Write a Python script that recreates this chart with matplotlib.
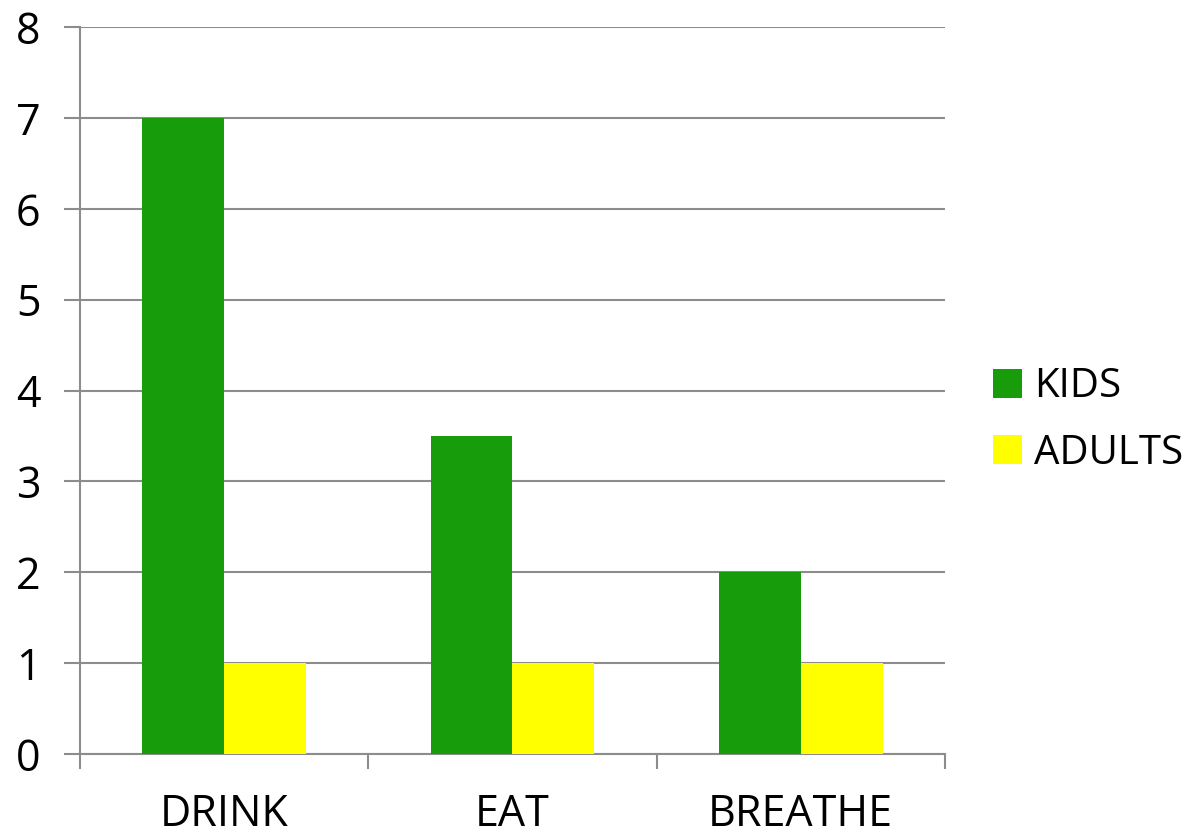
import numpy as np
import matplotlib
matplotlib.use("Agg")
import matplotlib.pyplot as plt

categories = ["DRINK", "EAT", "BREATHE"]
kids = [7, 3.5, 2]
adults = [1, 1, 1]
series_names = ["KIDS", "ADULTS"]
colors = ["#179C0C", "#FFFF00"]

plt.rcParams["font.family"] = ["Open Sans", "DejaVu Sans"]

fig = plt.figure(figsize=(11.96, 8.34), dpi=100)
ax = fig.add_axes([0.0669, 0.0959, 0.790 - 0.0669, 0.9676 - 0.0959])

x = np.arange(len(categories))
w = 0.284
b1 = ax.bar(x - w / 2, kids, w, color=colors[0], label=series_names[0], zorder=3)
b2 = ax.bar(x + w / 2, adults, w, color=colors[1], label=series_names[1], zorder=3)

grid_c = "#8C8C8C"
ax.set_xlim(-0.5, len(categories) - 0.5)
ax.set_ylim(0, 8)
ax.set_yticks(range(0, 9))
ax.yaxis.grid(True, color=grid_c, linewidth=1.5, zorder=0)
ax.set_axisbelow(True)

ax.set_xticks(x)
ax.set_xticklabels(categories)
ax.set_xticks(np.arange(-0.5, len(categories)), minor=True)
ax.tick_params(axis="x", which="major", length=0, pad=28, labelsize=31)
ax.tick_params(axis="x", which="minor", length=11, width=1.5, color=grid_c)
ax.tick_params(axis="y", length=11.5, width=1.5, color=grid_c, pad=17, labelsize=31)

for s in ["top", "right"]:
    ax.spines[s].set_visible(False)
for s in ["left", "bottom"]:
    ax.spines[s].set_color(grid_c)
    ax.spines[s].set_linewidth(1.5)

fig.legend(handles=[b1, b2], labels=series_names, loc="center left",
           bbox_to_anchor=(0.80, 0.496), frameon=False, fontsize=29,
           handlelength=0.72, handleheight=0.72, handletextpad=0.3,
           labelspacing=0.65)

fig.savefig("out.png", dpi=100)
